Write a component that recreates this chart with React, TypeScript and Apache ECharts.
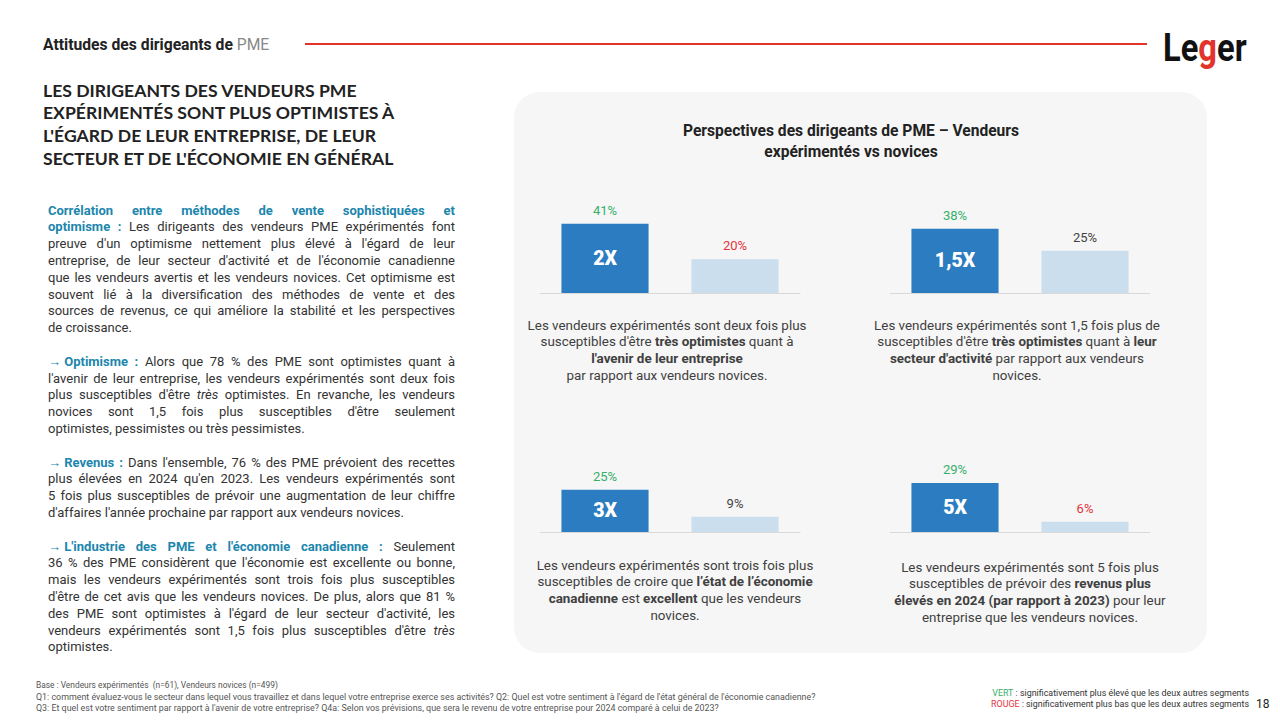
import React, { useEffect, useRef } from "react";
import * as echarts from "echarts";

const FONT = "Roboto";
const TITLE_FONT = "Lato";
const TEAL = "#1c86ad";
const DARK = "#2b7cc0";
const LIGHT = "#cadeee";
const GREEN = "#35b06a";
const RED = "#e5343b";
const NEUTRAL = "#444444";
const TEXT = "#333333";

const categories = ["Vendeurs expérimentés", "Vendeurs novices"];
const avenirEntreprise = [41, 20];
const secteurActivite = [38, 25];
const economieCanadienne = [25, 9];
const revenus2024 = [29, 6];
const multipliers = ["2X", "1,5X", "3X", "5X"];
const significance = [
  ["vert", "rouge"],
  ["vert", "neutre"],
  ["vert", "neutre"],
  ["vert", "rouge"],
];
const panelValues = [avenirEntreprise, secteurActivite, economieCanadienne, revenus2024];

const sigColor = (s: string) => (s === "vert" ? GREEN : s === "rouge" ? RED : NEUTRAL);

type Seg = [string, string];
const leftParagraphs: Seg[][][] = [
  [
    [["t", "Corrélation entre méthodes de vente sophistiquées et"]],
    [["t", "optimisme :"], ["n", " Les dirigeants des vendeurs PME expérimentés font"]],
    [["n", "preuve d'un optimisme nettement plus élevé à l'égard de leur"]],
    [["n", "entreprise, de leur secteur d'activité et de l'économie canadienne"]],
    [["n", "que les vendeurs avertis et les vendeurs novices. Cet optimisme est"]],
    [["n", "souvent lié à la diversification des méthodes de vente et des"]],
    [["n", "sources de revenus, ce qui améliore la stabilité et les perspectives"]],
    [["n", "de croissance."]],
  ],
  [
    [["a", "→\u00a0"], ["t", "Optimisme :"], ["n", " Alors que 78 % des PME sont optimistes quant à"]],
    [["n", "l'avenir de leur entreprise, les vendeurs expérimentés sont deux fois"]],
    [["n", "plus susceptibles d'être "], ["i", "très"], ["n", " optimistes. En revanche, les vendeurs"]],
    [["n", "novices sont 1,5 fois plus susceptibles d'être seulement"]],
    [["n", "optimistes, pessimistes ou très pessimistes."]],
  ],
  [
    [["a", "→\u00a0"], ["t", "Revenus :"], ["n", " Dans l'ensemble, 76 % des PME prévoient des recettes"]],
    [["n", "plus élevées en 2024 qu'en 2023. Les vendeurs expérimentés sont"]],
    [["n", "5 fois plus susceptibles de prévoir une augmentation de leur chiffre"]],
    [["n", "d'affaires l'année prochaine par rapport aux vendeurs novices."]],
  ],
  [
    [["a", "→\u00a0"], ["t", "L'industrie des PME et l'économie canadienne :"], ["n", " Seulement"]],
    [["n", "36 % des PME considèrent que l'économie est excellente ou bonne,"]],
    [["n", "mais les vendeurs expérimentés sont trois fois plus susceptibles"]],
    [["n", "d'être de cet avis que les vendeurs novices. De plus, alors que 81 %"]],
    [["n", "des PME sont optimistes à l'égard de leur secteur d'activité, les"]],
    [["n", "vendeurs expérimentés sont 1,5 fois plus susceptibles d'être "], ["i", "très"]],
    [["n", "optimistes."]],
  ],
];

const titleLines = [
  "LES DIRIGEANTS DES VENDEURS PME",
  "EXPÉRIMENTÉS SONT PLUS OPTIMISTES À",
  "L'ÉGARD DE LEUR ENTREPRISE, DE LEUR",
  "SECTEUR ET DE L'ÉCONOMIE EN GÉNÉRAL",
];

const descriptions = [
  [
    "{n|Les vendeurs expérimentés sont deux fois plus}",
    "{n|susceptibles d'être }{b|très optimistes}{n| quant à}",
    "{b|l'avenir de leur entreprise}",
    "{n|par rapport aux vendeurs novices.}",
  ],
  [
    "{n|Les vendeurs expérimentés sont 1,5 fois plus de}",
    "{n|susceptibles d'être }{b|très optimistes}{n| quant à }{b|leur}",
    "{b|secteur d'activité}{n| par rapport aux vendeurs}",
    "{n|novices.}",
  ],
  [
    "{n|Les vendeurs expérimentés sont trois fois plus}",
    "{n|susceptibles de croire que }{b|l’état de l’économie}",
    "{b|canadienne}{n| est }{b|excellent}{n| que les vendeurs}",
    "{n|novices.}",
  ],
  [
    "{n|Les vendeurs expérimentés sont 5 fois plus}",
    "{n|susceptibles de prévoir des }{b|revenus plus}",
    "{b|élevés en 2024 (par rapport à 2023)}{n| pour leur}",
    "{n|entreprise que les vendeurs novices.}",
  ],
];

const footerBase = "Base : Vendeurs expérimentés  (n=61), Vendeurs novices (n=499)";
const footerQuestions = [
  "Q1: comment évaluez-vous le secteur dans lequel vous travaillez et dans lequel votre entreprise exerce ses activités? Q2: Quel est votre sentiment à l'égard de l'état général de l'économie canadienne?",
  "Q3: Et quel est votre sentiment par rapport à l'avenir de votre entreprise? Q4a: Selon vos prévisions, que sera le revenu de votre entreprise pour 2024 comparé à celui de 2023?",
];

const BODY_SIZE = 13;

const richSet = (size: number, color: string) => ({
  n: { fontSize: size, fontFamily: FONT, fill: color },
  b: { fontSize: size, fontFamily: FONT, fontWeight: "bold", fill: color },
  i: { fontSize: size, fontFamily: FONT, fontStyle: "italic", fill: color },
  t: { fontSize: size, fontFamily: FONT, fontWeight: "bold", fill: TEAL },
  a: { fontSize: size, fontFamily: FONT, fill: TEAL },
});

function fontFor(style: string, size: number) {
  const italic = style === "i" ? "italic " : "";
  const bold = style === "b" || style === "t" ? "bold " : "";
  return `${italic}${bold}${size}px ${FONT}`;
}

function txt(x: number, y: number, text: string, extra: any = {}) {
  return {
    type: "text",
    x,
    y,
    silent: true,
    style: {
      text,
      fontFamily: FONT,
      fontSize: 13,
      fill: TEXT,
      textAlign: "left",
      textVerticalAlign: "middle",
      ...extra,
    },
  };
}

// Build a justified rich-text line: words separated by spacer tokens of computed width
function justifiedLine(segs: Seg[], width: number, justify: boolean, ctx: CanvasRenderingContext2D) {
  const words: Seg[][] = [];
  let cur: Seg[] = [];
  segs.forEach(([st, text]) => {
    let buf = "";
    for (const ch of text) {
      if (ch === " ") {
        if (buf) cur.push([st, buf]);
        buf = "";
        if (cur.length) words.push(cur);
        cur = [];
      } else buf += ch;
    }
    if (buf) cur.push([st, buf]);
  });
  if (cur.length) words.push(cur);
  let total = 0;
  words.forEach((w) =>
    w.forEach(([st, t]) => {
      ctx.font = fontFor(st, BODY_SIZE);
      total += ctx.measureText(t).width;
    })
  );
  ctx.font = fontFor("n", BODY_SIZE);
  const spaceW = ctx.measureText(" ").width;
  const gap = justify && words.length > 1 ? (width - total) / (words.length - 1) : spaceW;
  const rich: any = {
    ...richSet(BODY_SIZE, TEXT),
    sp: { fontSize: BODY_SIZE, fontFamily: FONT, width: Math.max(gap, spaceW * 0.8) },
  };
  const text = words
    .map((w) => w.map(([st, t]) => `{${st}|${t}}`).join(""))
    .join("{sp| }");
  return { text, rich };
}

export default function App() {
  const ref = useRef<HTMLDivElement>(null);
  useEffect(() => {
    if (!ref.current) return;
    const chart = echarts.init(ref.current, undefined, { renderer: "svg" });
    const canvas = document.createElement("canvas");
    const ctx = canvas.getContext("2d") as CanvasRenderingContext2D;

    const grids = [
      { left: 540, top: 208.5, width: 260, height: 84.5 },
      { left: 890, top: 208.5, width: 260, height: 84.5 },
      { left: 540, top: 447.5, width: 260, height: 84.5 },
      { left: 890, top: 447.5, width: 260, height: 84.5 },
    ];
    const descCenters = [
      { x: 667, y: 325 },
      { x: 1017, y: 325 },
      { x: 675, y: 565 },
      { x: 1030, y: 567 },
    ];

    const graphics: any[] = [];
    graphics.push({
      type: "rect",
      silent: true,
      z: -10,
      shape: { x: 514, y: 92, width: 693, height: 561, r: 26 },
      style: { fill: "#f6f6f6" },
    });
    graphics.push(
      txt(43, 44, "{b|Attitudes des dirigeants de }{g|PME}", {
        rich: {
          b: { fontSize: 15.7, fontFamily: FONT, fontWeight: "bold", fill: "#222" },
          g: { fontSize: 15.7, fontFamily: FONT, fill: "#888" },
        },
      })
    );
    graphics.push({
      type: "line",
      silent: true,
      shape: { x1: 305, y1: 44, x2: 1147, y2: 44 },
      style: { stroke: "#e3342c", lineWidth: 2 },
    });
    graphics.push({
      type: "text",
      silent: true,
      x: 1163,
      y: 48,
      scaleX: 0.86,
      style: {
        text: "{k|Le}{r|g}{k|er}",
        textAlign: "left",
        textVerticalAlign: "middle",
        rich: {
          k: { fontSize: 38, fontFamily: "Roboto", fontWeight: "bold", fill: "#111" },
          r: { fontSize: 38, fontFamily: "Roboto", fontWeight: "bold", fill: "#e3342c" },
        },
      },
    });
    titleLines.forEach((l, i) => {
      graphics.push(
        txt(43, 90 + i * 22.7, l, {
          fontSize: 17.6,
          fontFamily: TITLE_FONT,
          fontWeight: "bold",
          fill: "#222",
        })
      );
    });
    let row = 0;
    leftParagraphs.forEach((para) => {
      para.forEach((line, li) => {
        const isLast = li === para.length - 1;
        const { text, rich } = justifiedLine(line, 407, !isLast, ctx);
        graphics.push(txt(48, 210 + row * 16.8, text, { rich }));
        row++;
      });
      row++;
    });
    graphics.push(
      txt(851, 131, "Perspectives des dirigeants de PME – Vendeurs", {
        fontSize: 15.6,
        fontWeight: "bold",
        fill: "#222",
        textAlign: "center",
      })
    );
    graphics.push(
      txt(851, 152, "expérimentés vs novices", {
        fontSize: 15.6,
        fontWeight: "bold",
        fill: "#222",
        textAlign: "center",
      })
    );
    descriptions.forEach((lines, p) => {
      lines.forEach((l, i) => {
        graphics.push(
          txt(descCenters[p].x, descCenters[p].y + i * 16.7, l, {
            textAlign: "center",
            rich: richSet(13.4, "#404040"),
          })
        );
      });
    });
    graphics.push(txt(36, 685, footerBase, { fontSize: 8.4, fill: "#555" }));
    footerQuestions.forEach((l, i) => {
      graphics.push(txt(36, 696.5 + i * 11.5, l, { fontSize: 8.9, fill: "#555" }));
    });
    graphics.push(
      txt(1249, 693, "{g|VERT}{n| : significativement plus élevé que les deux autres segments}", {
        textAlign: "right",
        rich: {
          g: { fontSize: 8.9, fontFamily: FONT, fill: GREEN },
          n: { fontSize: 8.9, fontFamily: FONT, fill: "#333" },
        },
      })
    );
    graphics.push(
      txt(1249, 704, "{r|ROUGE}{n| : significativement plus bas que les deux autres segments}", {
        textAlign: "right",
        rich: {
          r: { fontSize: 8.9, fontFamily: FONT, fill: RED },
          n: { fontSize: 8.9, fontFamily: FONT, fill: "#333" },
        },
      })
    );
    graphics.push(txt(1256, 704, "18", { fontSize: 12, fill: "#222" }));

    const series: any[] = [];
    panelValues.forEach((vals, p) => {
      series.push({
        type: "bar",
        name: "barres-" + p,
        xAxisIndex: p,
        yAxisIndex: p,
        barWidth: "67%",
        barGap: "-100%",
        data: vals.map((v, j) => ({
          value: v,
          itemStyle: { color: j === 0 ? DARK : LIGHT },
          label:
            j === 0
              ? {
                  show: true,
                  position: "inside",
                  formatter: multipliers[p],
                  color: "#ffffff",
                  fontSize: 19.5,
                  fontWeight: 900,
                  fontFamily: FONT,
                }
              : { show: false },
        })),
      });
      series.push({
        type: "bar",
        name: "etiquettes-" + p,
        xAxisIndex: p,
        yAxisIndex: p,
        barWidth: "67%",
        barGap: "-100%",
        silent: true,
        itemStyle: { color: "rgba(0,0,0,0)" },
        label: {
          show: true,
          position: "top",
          distance: 7,
          formatter: "{c}%",
          fontSize: 13,
          fontFamily: FONT,
        },
        data: vals.map((v, j) => ({
          value: v,
          label: { color: sigColor(significance[p][j]) },
        })),
      });
    });

    chart.setOption({
      animation: false,
      backgroundColor: "#ffffff",
      grid: grids,
      xAxis: grids.map((_, i) => ({
        type: "category",
        gridIndex: i,
        data: categories,
        axisLine: { show: true, lineStyle: { color: "#d9d9d9", width: 1 } },
        axisTick: { show: false },
        axisLabel: { show: false },
        splitLine: { show: false },
      })),
      yAxis: grids.map((_, i) => ({
        type: "value",
        gridIndex: i,
        min: 0,
        max: 50,
        show: false,
        splitLine: { show: false },
      })),
      series,
      graphic: graphics,
    });
    return () => chart.dispose();
  }, []);
  return (
    <div
      ref={ref}
      style={{ position: "absolute", left: 0, top: 0, width: 1280, height: 720 }}
    />
  );
}
